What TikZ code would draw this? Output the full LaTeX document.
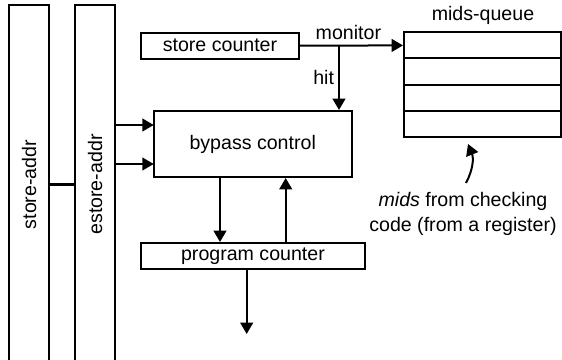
\documentclass[tikz,border=0pt]{standalone}
\usepackage{fontspec}
\setmainfont{Liberation Sans}
\usetikzlibrary{arrows.meta}

\tikzset{
  blk/.style={draw, line width=1.5pt, inner sep=0pt, font=\fontsize{14.7}{17}\selectfont},
  arr/.style={line width=1.5pt, -{Triangle[length=8.5pt,width=9.5pt]}},
  lbl/.style={inner sep=1pt, font=\fontsize{14.7}{17}\selectfont}
}

\begin{document}
\begin{tikzpicture}[x=0.75pt,y=0.75pt,yscale=-1,xscale=1]
\clip (0,0) rectangle (562,360);

% address bars
\node[blk, minimum width=30pt, minimum height=269.25pt] (storeaddr) at (29,184.5) {\rotatebox{90}{store-addr}};
\node[blk, minimum width=30pt, minimum height=269.25pt] (estoreaddr) at (95,184.5) {\rotatebox{90}{estore-addr}};
\draw[line width=1.8pt] (storeaddr.east) -- (estoreaddr.west);

% boxes
\node[blk, minimum width=118.5pt, minimum height=19.5pt] (storecnt) at (220,45.7) {store counter};
\node[blk, minimum width=148.5pt, minimum height=49.5pt] (bypass) at (252.7,144) {bypass control};
\node[blk, minimum width=168pt, minimum height=19.5pt] (progcnt) at (253,256) {program counter};

% mids-queue
\foreach \i/\y in {1/45.4, 2/71.6, 3/97.8, 4/124}
  \node[blk, minimum width=117.75pt, minimum height=19.65pt] (q\i) at (482.5,\y) {};
\node[lbl] (qname) at (483,15) {mids-queue};

% inputs to bypass control
\coordinate (in1) at (153.7,125);
\coordinate (in2) at (153.7,164);
\draw[arr] (estoreaddr.east |- in1) -- (in1);
\draw[arr] (estoreaddr.east |- in2) -- (in2);

% store counter outputs
\draw[arr] (storecnt.east) -- (q1.west) node[lbl, pos=0.47, above=3pt] {monitor};
\coordinate (hit) at (339,0);
\draw[arr] (storecnt.east -| hit) -- (bypass.north -| hit) node[lbl, midway, left=2pt] {hit};

% bypass control <-> program counter
\coordinate (dn) at (220,0);
\coordinate (up) at (285.7,0);
\draw[arr] (bypass.south -| dn) -- (progcnt.north -| dn);
\draw[arr] (progcnt.north -| up) -- (bypass.south -| up);
\coordinate (out) at (246.7,334);
\draw[arr] (progcnt.south -| out) -- (out);

% mids source
\node[lbl, align=center, font=\fontsize{14.7}{18.75}\selectfont] (src) at (463,214) {\textit{mids} from checking\\code (from a register)};
\coordinate (tail) at (466,183);
\coordinate (tip) at (468,144);
\draw[arr] (tail) to[bend left=25] (tip);

\end{tikzpicture}
\end{document}
